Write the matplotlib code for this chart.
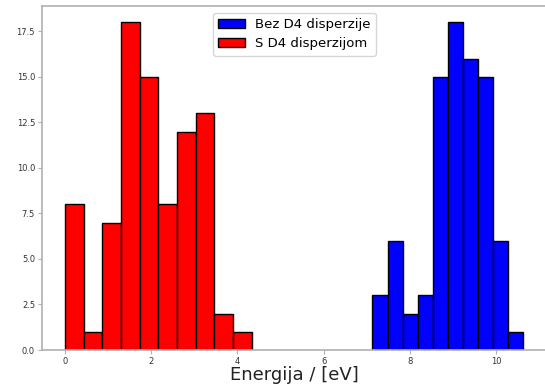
import numpy as np
import matplotlib.pyplot as plt

# histogram counts
red_counts = [8, 1, 7, 18, 15, 8, 12, 13, 2, 1]
blue_counts = [3, 6, 2, 3, 15, 18, 16, 15, 6, 1]
red_range = (0.0, 4.33)
blue_range = (7.13, 10.63)
labels = ['Bez D4 disperzije', 'S D4 disperzijom']

red_edges = np.linspace(red_range[0], red_range[1], len(red_counts) + 1)
blue_edges = np.linspace(blue_range[0], blue_range[1], len(blue_counts) + 1)

fig = plt.figure(figsize=(5.45, 3.87), dpi=100)
ax = fig.add_axes([0.077, 0.0956, 0.927, 0.889])

ax.hist(blue_edges[:-1], bins=blue_edges, weights=blue_counts,
        color='blue', edgecolor='black', linewidth=1, label=labels[0])
ax.hist(red_edges[:-1], bins=red_edges, weights=red_counts,
        color='red', edgecolor='black', linewidth=1, label=labels[1])

ax.set_xlim(-0.53, 11.18)
ax.set_ylim(0, 18.9)
ax.set_xticks([0, 2, 4, 6, 8, 10])
ax.set_yticks(np.arange(0, 18, 2.5))
ax.tick_params(labelsize=6, colors='#b0b0b0', labelcolor='#333333', length=3, pad=2)
for s in ax.spines.values():
    s.set_color('#b0b0b0')
    s.set_linewidth(1.2)

ax.set_xlabel('Energija / [eV]', fontsize=13, color='#222222', labelpad=0)
ax.legend(loc='upper center', fontsize=9.5, bbox_to_anchor=(0.5, 1.0))

fig.savefig('out.png', dpi=100)
